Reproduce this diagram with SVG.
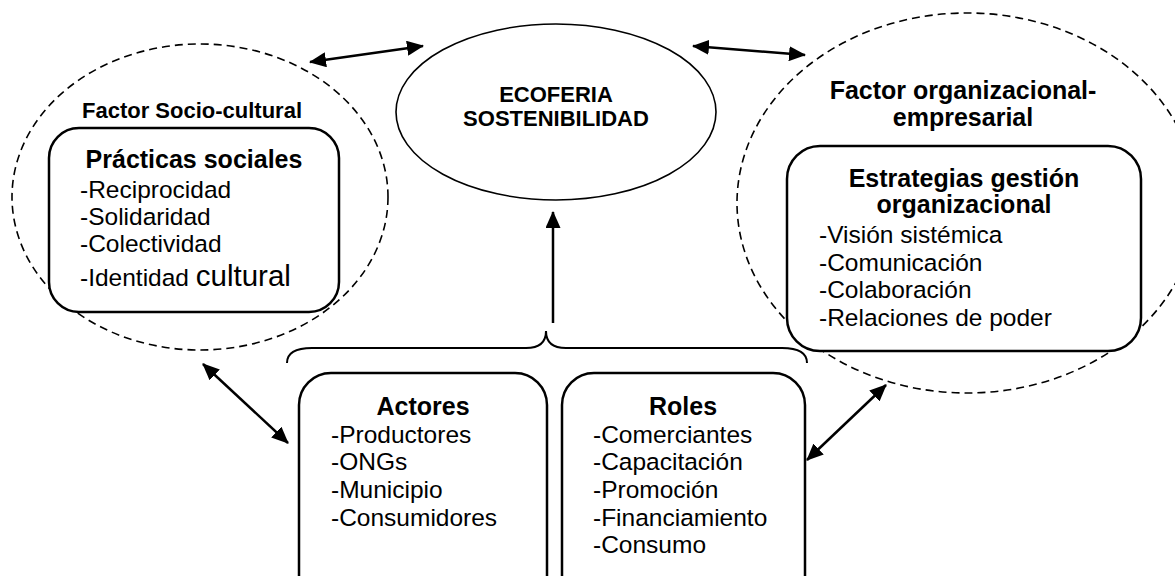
<svg xmlns="http://www.w3.org/2000/svg" width="1175" height="576" viewBox="0 0 1175 576">
<style>
  .dash { fill: none; stroke: #000; stroke-width: 1.6; stroke-dasharray: 8 5; }
  .box { fill: #fff; stroke: #000; stroke-width: 2.5; }
  .ell { fill: #fff; stroke: #000; stroke-width: 1.6; }
  .con { fill: none; stroke: #000; stroke-width: 2.5; }
  .brace { fill: none; stroke: #000; stroke-width: 2; }
  text { font-family: "Liberation Sans", Arial, sans-serif; fill: #000; }
  .h { font-weight: bold; font-size: 25px; text-anchor: middle; }
  .f { font-weight: bold; font-size: 22px; text-anchor: middle; }
  .it { font-size: 24.5px; }
</style>
<defs>
  <marker id="ah" viewBox="0 0 17 15" refX="16" refY="7.5" markerWidth="17" markerHeight="15" markerUnits="userSpaceOnUse" orient="auto-start-reverse">
    <path d="M0,0 L17,7.5 L0,15 z" fill="#000"/>
  </marker>
</defs>
<rect width="1175" height="576" fill="#fff"/>

<g id="factor-socio">
  <ellipse class="dash" cx="200" cy="197" rx="188" ry="153"/>
  <text class="f" x="192" y="118">Factor Socio-cultural</text>
</g>
<g id="factor-org">
  <ellipse class="dash" cx="967" cy="203" rx="230" ry="190"/>
  <text class="h" x="963" y="99">Factor organizacional-</text>
  <text class="h" x="963" y="126">empresarial</text>
</g>
<g id="practicas">
  <rect class="box" x="49" y="128" width="290" height="184" rx="30"/>
  <text class="h" x="194" y="168">Prácticas sociales</text>
  <text class="it" x="80" y="198">-Reciprocidad</text>
  <text class="it" x="80" y="225">-Solidaridad</text>
  <text class="it" x="80" y="252">-Colectividad</text>
  <text class="it" x="80" y="286">-Identidad <tspan font-size="29.5">cultural</tspan></text>
</g>
<g id="ecoferia">
  <ellipse class="ell" cx="556" cy="112" rx="160" ry="88"/>
  <text class="f" x="556" y="102">ECOFERIA</text>
  <text class="f" x="556" y="126">SOSTENIBILIDAD</text>
</g>
<g id="estrategias">
  <rect class="box" x="787" y="146" width="354" height="205" rx="33"/>
  <text class="h" x="964" y="187">Estrategias gestión</text>
  <text class="h" x="964" y="213">organizacional</text>
  <text class="it" x="819" y="243">-Visión sistémica</text>
  <text class="it" x="819" y="271">-Comunicación</text>
  <text class="it" x="819" y="298">-Colaboración</text>
  <text class="it" x="819" y="326">-Relaciones de poder</text>
</g>
<g id="actores">
  <rect class="box" x="299" y="373" width="248" height="240" rx="32"/>
  <text class="h" x="423" y="415">Actores</text>
  <text class="it" x="331" y="443">-Productores</text>
  <text class="it" x="331" y="470">-ONGs</text>
  <text class="it" x="331" y="498">-Municipio</text>
  <text class="it" x="331" y="526">-Consumidores</text>
</g>
<g id="roles">
  <rect class="box" x="562" y="373" width="243" height="240" rx="32"/>
  <text class="h" x="683" y="415">Roles</text>
  <text class="it" x="593" y="443">-Comerciantes</text>
  <text class="it" x="593" y="470">-Capacitación</text>
  <text class="it" x="593" y="498">-Promoción</text>
  <text class="it" x="593" y="526">-Financiamiento</text>
  <text class="it" x="593" y="553">-Consumo</text>
</g>
<g id="connectors">
  <path class="brace" d="M287,363 Q287,348 312,348 L526,348 Q546,348 546,331 Q546,348 566,348 L782,348 Q807,348 807,363"/>
  <line class="con" x1="553" y1="323" x2="553" y2="212" marker-end="url(#ah)"/>
  <line class="con" x1="310" y1="62" x2="423" y2="46" marker-start="url(#ah)" marker-end="url(#ah)"/>
  <line class="con" x1="693" y1="46" x2="805" y2="55" marker-start="url(#ah)" marker-end="url(#ah)"/>
  <line class="con" x1="203" y1="364" x2="288" y2="443" marker-start="url(#ah)" marker-end="url(#ah)"/>
  <line class="con" x1="807" y1="460" x2="886" y2="385" marker-start="url(#ah)" marker-end="url(#ah)"/>
</g>
</svg>
